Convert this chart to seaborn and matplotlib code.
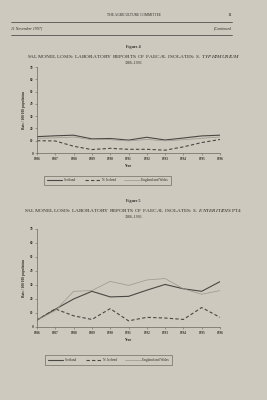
import matplotlib
matplotlib.use("Agg")
import matplotlib.pyplot as plt
import seaborn as sns
import pandas as pd
from matplotlib.lines import Line2D

years = [1986, 1987, 1988, 1989, 1990, 1991, 1992, 1993, 1994, 1995, 1996]
year_labels = [str(y) for y in years]
y_ticks = [0, 10, 20, 30, 40, 50, 60, 70]

# Figure 4: S. typhimurium
typh_scotland = [13.3, 14.0, 14.5, 11.5, 11.8, 10.5, 12.8, 10.6, 12.2, 13.9, 14.5]
typh_nireland = [10.0, 9.8, 5.5, 2.8, 3.8, 3.0, 3.0, 2.3, 5.0, 8.5, 11.0]
typh_engwales = [12.0, 12.3, 13.0, 10.8, 10.9, 9.8, 11.0, 9.9, 10.8, 12.0, 13.0]

# Figure 5: S. enteritidis PT4
pt4_scotland = [4.9, 12.7, 20.0, 25.5, 21.5, 21.9, 26.3, 30.4, 27.3, 25.5, 32.4]
pt4_nireland = [5.0, 12.9, 8.0, 5.4, 13.1, 4.4, 6.9, 6.4, 5.4, 13.9, 6.9]
pt4_engwales = [5.0, 11.7, 25.5, 26.0, 32.6, 29.7, 33.6, 34.6, 27.3, 23.4, 26.0]

series_names = ["Scotland", "N. Ireland", "England and Wales"]

bg = "#cdc9be"
dark = "#4a4844"
light = "#9a968e"
styles = {
    "Scotland": dict(color=dark, lw=0.8, ls="-"),
    "N. Ireland": dict(color=dark, lw=0.8, ls=(0, (3, 2))),
    "England and Wales": dict(color=light, lw=0.5, ls="-"),
}

sns.set_theme(style="white")
plt.rcParams["font.family"] = ["Liberation Serif", "DejaVu Serif"]
plt.rcParams["mathtext.fontset"] = "custom"
plt.rcParams["mathtext.rm"] = "Liberation Serif"
plt.rcParams["mathtext.it"] = "Liberation Serif:italic"

fig = plt.figure(figsize=(2.67, 4.0), dpi=100, facecolor=bg)

txtc = "#2e2c29"
# page header
fig.text(0.5, 1 - 15 / 400, "THE AGRICULTURE COMMITTEE", ha="center", va="center", fontsize=2.6, color=txtc)
fig.text(0.862, 1 - 15 / 400, "11", ha="center", va="center", fontsize=3.5, color=txtc)
fig.text(0.04, 1 - 28.5 / 400, "11 November 1997]", ha="left", va="center", fontsize=2.8, style="italic", color=txtc)
fig.text(0.87, 1 - 28.5 / 400, "[Continued", ha="right", va="center", fontsize=2.8, style="italic", color=txtc)
fig.add_artist(Line2D([0.04, 0.87], [1 - 22 / 400] * 2, color="#3a3835", lw=0.5))
fig.add_artist(Line2D([0.04, 0.87], [1 - 35 / 400] * 2, color="#3a3835", lw=0.5))


def draw(ax, data, fig_label, title_main, title_it, title_tail, title_y, legend_box):
    df = pd.DataFrame({"Year": years * 3,
                       "Rate": data[0] + data[1] + data[2],
                       "Region": sum([[n] * len(years) for n in series_names], [])})
    ax.set_facecolor(bg)
    for name in series_names:
        sub = df[df["Region"] == name]
        st = styles[name]
        sns.lineplot(data=sub, x="Year", y="Rate", ax=ax, color=st["color"],
                     linewidth=st["lw"], linestyle=st["ls"], legend=False)
    ax.set_xlim(1986, 1996)
    ax.set_ylim(0, 70)
    ax.set_xticks(years)
    ax.set_xticklabels(year_labels, fontsize=2.4, fontweight="bold", color=txtc)
    ax.set_yticks(y_ticks)
    ax.set_yticklabels([str(v) for v in y_ticks], fontsize=2.4, fontweight="bold", color=txtc)
    ax.tick_params(axis="both", length=1.2, width=0.4, color="#6a6660", pad=1.5, direction="out")
    ax.tick_params(left=True, bottom=True)
    for s in ["top", "right"]:
        ax.spines[s].set_visible(False)
    for s in ["left", "bottom"]:
        ax.spines[s].set_color("#6a6660")
        ax.spines[s].set_linewidth(0.5)
    ax.set_xlabel("Year", fontsize=2.6, fontweight="bold", color=txtc, labelpad=2)
    ax.set_ylabel("Rate / 100 000 population", fontsize=2.5, fontweight="bold", color=txtc, labelpad=3)
    ax.grid(False)
    # titles
    fig.text(0.5, 1 - title_y / 400, fig_label, ha="center", va="center", fontsize=3.0,
             fontweight="bold", color=txtc)
    fig.text(0.5, 1 - (title_y + 10) / 400, title_main + r"$\it{" + title_it + "}$" + title_tail,
             ha="center", va="center", fontsize=3.9, color=txtc)
    fig.text(0.5, 1 - (title_y + 16) / 400, "1986–1996", ha="center", va="center", fontsize=2.8, color=txtc)
    handles = [Line2D([], [], color=styles[n]["color"], lw=styles[n]["lw"], ls=styles[n]["ls"]) for n in series_names]
    leg = fig.legend(handles, series_names, loc="center", bbox_to_anchor=legend_box,
                     ncol=3, fontsize=2.5, frameon=True, fancybox=False, handlelength=4.5,
                     columnspacing=2.5, handletextpad=0.4, borderpad=0.8)
    leg.get_frame().set_edgecolor("#5a5650")
    leg.get_frame().set_linewidth(0.5)
    leg.get_frame().set_facecolor(bg)
    for t in leg.get_texts():
        t.set_color(txtc)


ax1 = fig.add_axes([37 / 267, 1 - 153 / 400, 183 / 267, 86 / 400])
draw(ax1, [typh_scotland, typh_nireland, typh_engwales], "Figure 4",
     "SALMONELLOSIS: LABORATORY REPORTS OF FAECAL ISOLATES: ", r"S.\ TYPHIMURIUM", "",
     47, (107.5 / 267, 1 - 180.5 / 400))

ax2 = fig.add_axes([37 / 267, 1 - 327 / 400, 183 / 267, 98 / 400])
draw(ax2, [pt4_scotland, pt4_nireland, pt4_engwales], "Figure 5",
     "SALMONELLOSIS: LABORATORY REPORTS OF FAECAL ISOLATES: ", r"S.\ ENTERITIDIS", " PT4",
     201, (108.5 / 267, 1 - 360 / 400))

fig.savefig("out.png", dpi=100, facecolor=bg)
